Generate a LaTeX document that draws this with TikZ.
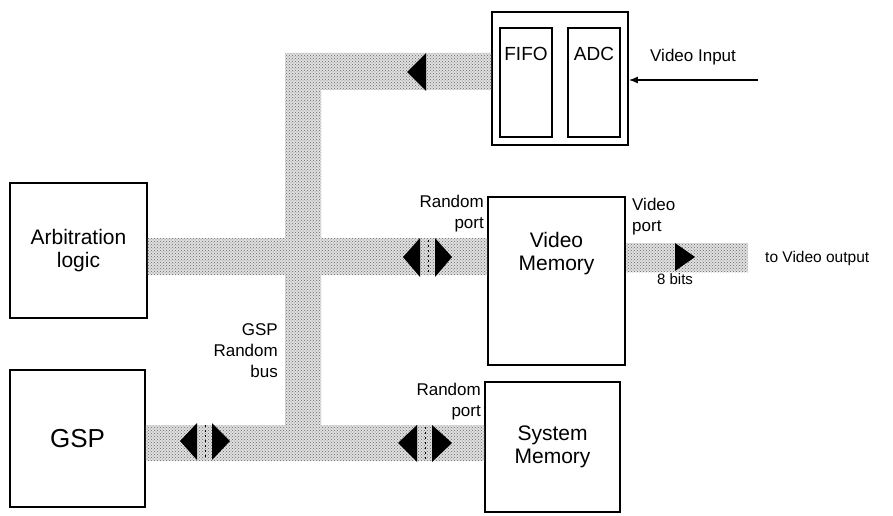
\documentclass[tikz,border=0pt]{standalone}
\usepackage{fontspec}
\setmainfont{Liberation Sans}
\usetikzlibrary{patterns,arrows.meta,calc}

\tikzset{
  blk/.style={draw,line width=1.6pt,inner sep=0pt},
  bus/.style={preaction={fill=black!12},pattern=crosshatch dots,pattern color=black!60},
  head/.style={fill=black},
  gap/.style={draw=black,line width=1pt,dash pattern=on 2pt off 3pt},
  lbl/.style={inner sep=0pt,font=\fontsize{17}{21}\selectfont},
  big/.style={font=\fontsize{21}{23}\selectfont,align=center}
}

\begin{document}
\begin{tikzpicture}[x=1pt,y=-1pt]
\useasboundingbox (0,0) rectangle (893,516);

% boxes
\node[blk,big,minimum width=137,minimum height=135] (arb) at (78.5,250.5) {Arbitration\\logic};
\node[blk,minimum width=135,minimum height=137,font=\fontsize{26}{30}\selectfont] (gsp) at (77.5,438.5) {GSP};
\node[blk,minimum width=137,minimum height=168] (vmem) at (556.5,281) {};
\node[big] (vmemtxt) at (556.5,254) {Video\\Memory};
\node[blk,big,minimum width=135,minimum height=130] (smem) at (552.5,447) {System\\Memory};

\node[blk,minimum width=136,minimum height=133] (acq) at (560,78.5) {};
\node[blk,minimum width=52,minimum height=109] (fifo) at (526,82.5) {};
\node[blk,minimum width=52,minimum height=109] (adc) at (594,82.5) {};
\node[font=\fontsize{19}{21}\selectfont] (fifotxt) at (fifo.north |- 0,54) {FIFO};
\node[font=\fontsize{19}{21}\selectfont] (adctxt) at (adc.north |- 0,54) {ADC};

% GSP random bus
\path[bus] (285,53) rectangle (acq.west |- 0,90)
  (285,53) rectangle (321,461)
  (arb.east |- 0,238) rectangle (vmem.west |- 0,275)
  (gsp.east |- 0,425) rectangle (smem.west |- 0,461);

% video port bus
\coordinate (vout) at (748,257);
\path[bus] (vmem.east |- 0,243) rectangle (vout |- 0,272);

% bus arrows
\fill[head] (407,72) -- (426,53) -- (426,91) -- cycle;

\fill[head] (403,257) -- (420,238) -- (420,277) -- cycle;
\draw[gap] (428,240) -- (428,275);
\fill[head] (452,257) -- (435,238) -- (435,277) -- cycle;

\fill[head] (398,443) -- (417,425) -- (417,462) -- cycle;
\draw[gap] (425,427) -- (425,460);
\fill[head] (452,443) -- (432,425) -- (432,462) -- cycle;

\fill[head] (180,441) -- (197,423) -- (197,460) -- cycle;
\draw[gap] (205,425) -- (205,458);
\fill[head] (230,441) -- (212,423) -- (212,460) -- cycle;

\fill[head] (695,257) -- (675,243) -- (675,271) -- cycle;

% video input
\coordinate (vin) at (758,80);
\draw[line width=1.5pt,-{Latex[length=9pt,width=7pt]}] (vin) -- (acq.east |- vin);

% labels
\node[lbl,anchor=north west] (vintxt) at (650,49) {Video Input};
\node[lbl,anchor=north east,align=right] (vmemrp) at (484,195) {Random\\port};
\node[lbl,anchor=north west,align=left] (vmemvp) at (632,198) {Video\\port};
\node[lbl,anchor=north east,align=right] (smemrp) at (481,383) {Random\\port};
\node[lbl,anchor=north east,align=right] (bustxt) at (278,323) {GSP\\Random\\bus};
\node[lbl,font=\fontsize{15}{18}\selectfont] (bits) at (675,279) {8 bits};
\node[lbl,anchor=west,font=\fontsize{15.5}{18}\selectfont] (outtxt) at (765,258) {to Video output};

\end{tikzpicture}
\end{document}
